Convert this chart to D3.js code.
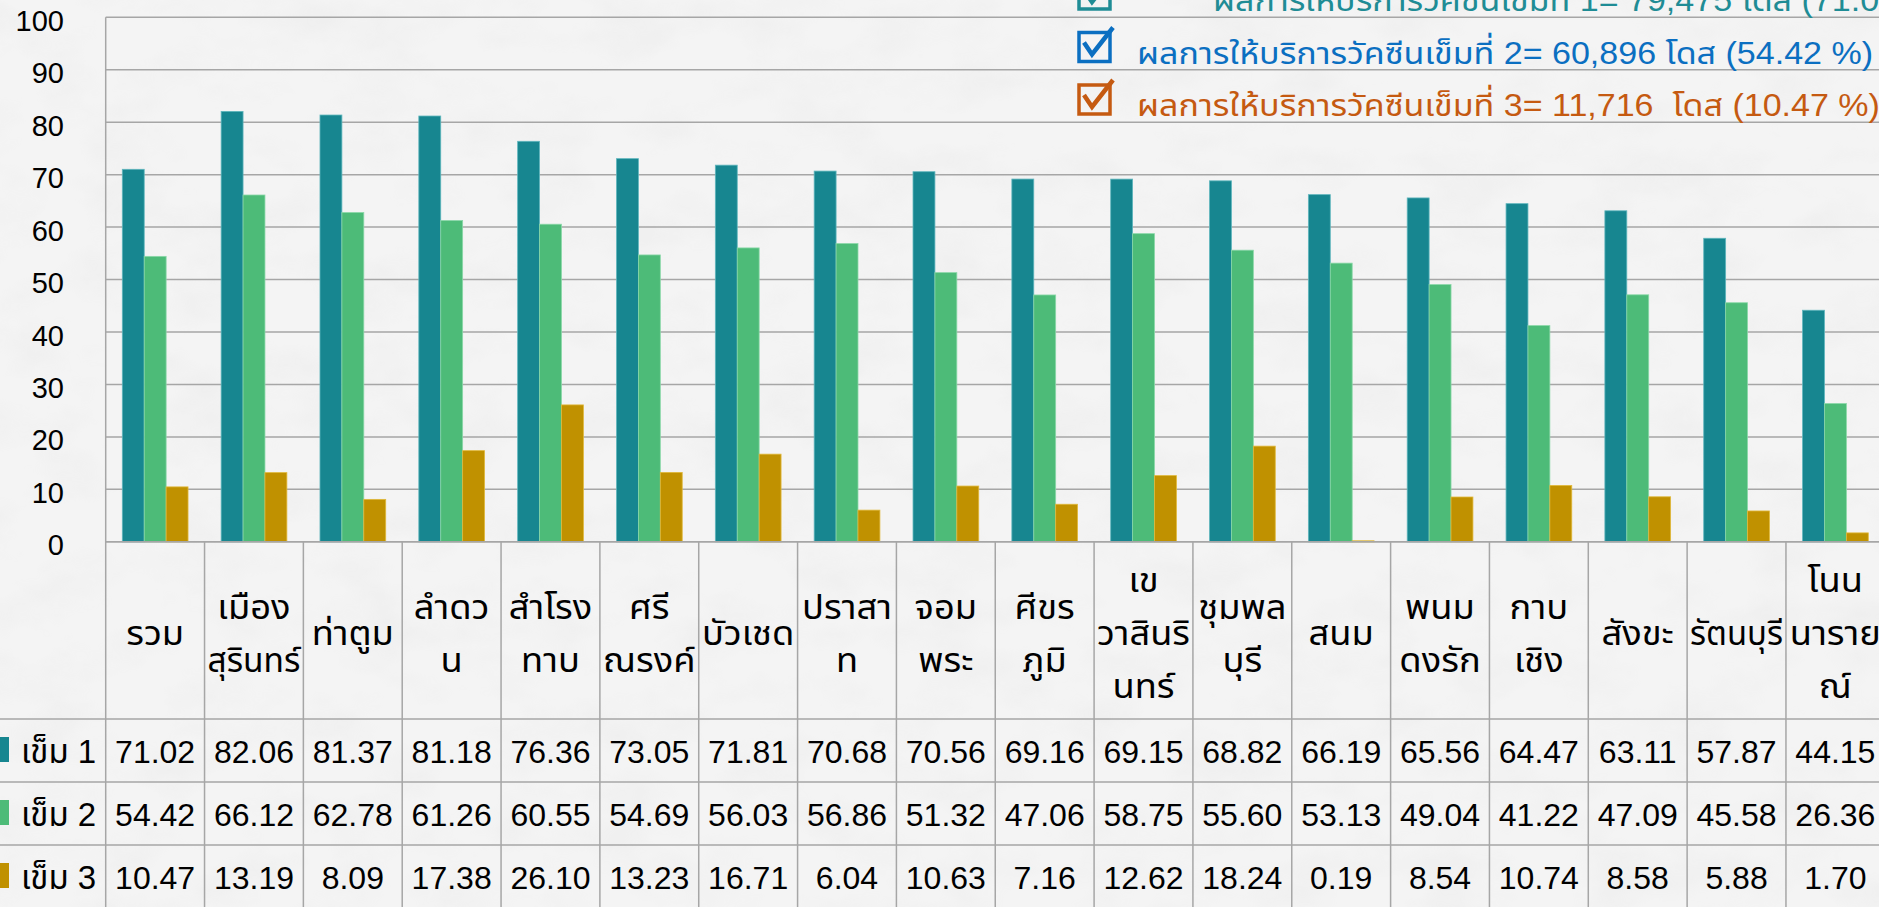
<!DOCTYPE html>
<html>
<head>
<meta charset="utf-8">
<script src="https://cdn.jsdelivr.net/npm/d3@7"></script>
<style>
  html, body { margin: 0; padding: 0; background: #f1f1f1; overflow: hidden; }
  svg { display: block; }
  text { font-family: "Tahoma", "Liberation Sans", "Noto Sans Thai", "Loma", "Garuda", "Noto Sans", sans-serif; }
</style>
</head>
<body>
<svg id="chart" width="1879" height="907"></svg>
<script>
// ---------- data ----------
const categories = ["รวม","เมืองสุรินทร์","ท่าตูม","ลำดวน","สำโรงทาบ","ศรีณรงค์","บัวเชด","ปราสาท","จอมพระ","ศีขรภูมิ","เขวาสินรินทร์","ชุมพลบุรี","สนม","พนมดงรัก","กาบเชิง","สังขะ","รัตนบุรี","โนนนารายณ์"];
const categoryLines = [["รวม"],["เมือง","สุรินทร์"],["ท่าตูม"],["ลำดว","น"],["สำโรง","ทาบ"],["ศรี","ณรงค์"],["บัวเชด"],["ปราสา","ท"],["จอม","พระ"],["ศีขร","ภูมิ"],["เข","วาสินริ","นทร์"],["ชุมพล","บุรี"],["สนม"],["พนม","ดงรัก"],["กาบ","เชิง"],["สังขะ"],["รัตนบุรี"],["โนน","นาราย","ณ์"]];
const seriesNames = ["เข็ม 1","เข็ม 2","เข็ม 3"];
const dose1 = [71.02,82.06,81.37,81.18,76.36,73.05,71.81,70.68,70.56,69.16,69.15,68.82,66.19,65.56,64.47,63.11,57.87,44.15];
const dose2 = [54.42,66.12,62.78,61.26,60.55,54.69,56.03,56.86,51.32,47.06,58.75,55.60,53.13,49.04,41.22,47.09,45.58,26.36];
const dose3 = [10.47,13.19,8.09,17.38,26.10,13.23,16.71,6.04,10.63,7.16,12.62,18.24,0.19,8.54,10.74,8.58,5.88,1.70];
const yTicks = [0,10,20,30,40,50,60,70,80,90,100];
const legendLines = [
  "ผลการให้บริการวัคซีนเข็มที่ 1= 79,475 โดส (71.02 %)",
  "ผลการให้บริการวัคซีนเข็มที่ 2= 60,896 โดส (54.42 %)",
  "ผลการให้บริการวัคซีนเข็มที่ 3= 11,716  โดส (10.47 %)"
];

// ---------- styles ----------
const colors = ["#178690", "#4dbb78", "#c09100"];
const barEdge = ["#5fb6bd", "#8ad8a8", "#e0b83a"];
const legendColors = ["#1f8c95", "#0b6fc1", "#c55a11"];
const gridColor = "#a6a6a6";

const W = 1879, H = 907;
const svg = d3.select("#chart");

// background with subtle paper texture
const defs = svg.append("defs");
const f = defs.append("filter").attr("id", "paper").attr("x", 0).attr("y", 0).attr("width", 1).attr("height", 1);
f.append("feTurbulence").attr("type", "fractalNoise").attr("baseFrequency", "0.012 0.02").attr("numOctaves", 4).attr("seed", 7).attr("result", "n");
f.append("feColorMatrix").attr("in", "n").attr("type", "matrix")
  .attr("values", "0 0 0 0 0.55  0 0 0 0 0.55  0 0 0 0 0.55  0 0 0 -0.9 0.5");
svg.append("rect").attr("width", W).attr("height", H).attr("fill", "#f4f4f4");
svg.append("rect").attr("width", W).attr("height", H).attr("filter", "url(#paper)").attr("opacity", 0.25);

// ---------- scales ----------
const plotLeft = 105.7, plotRight = 1884.8, yTop = 17.3, yBottom = 541.8;
const x = d3.scaleBand().domain(categories).range([plotLeft, plotRight]).paddingInner(0).paddingOuter(0);
const bw = x.bandwidth();
const x1 = d3.scaleBand().domain(seriesNames).range([bw * 0.168, bw * 0.833]).padding(0);
const y = d3.scaleLinear().domain([0, 100]).range([yBottom, yTop]);

// gridlines
svg.append("g").selectAll("line").data(yTicks).join("line")
  .attr("x1", plotLeft).attr("x2", W)
  .attr("y1", d => y(d)).attr("y2", d => y(d))
  .attr("stroke", gridColor).attr("stroke-width", 1.5);
svg.append("line").attr("x1", plotLeft).attr("x2", plotLeft).attr("y1", yTop).attr("y2", H)
  .attr("stroke", gridColor).attr("stroke-width", 1.5);

// y axis
const yAxis = d3.axisLeft(y).tickValues(yTicks).tickSize(0).tickPadding(0).tickFormat(d3.format("d"));
const gy = svg.append("g").attr("transform", "translate(64,0)").call(yAxis);
gy.select(".domain").remove();
gy.selectAll("text").attr("x", 0).attr("text-anchor", "end")
  .attr("font-size", 29).attr("fill", "#000").attr("dy", "0.45em")
  .style("font-family", "'Liberation Sans', sans-serif");

// bars
const seriesData = [dose1, dose2, dose3];
const gBars = svg.append("g");
seriesData.forEach((vals, si) => {
  gBars.append("g").selectAll("rect").data(vals).join("rect")
    .attr("x", (d, i) => x(categories[i]) + x1(seriesNames[si]))
    .attr("width", x1.bandwidth())
    .attr("y", d => y(d))
    .attr("height", d => y(0) - y(d))
    .attr("fill", colors[si])
    .attr("stroke", barEdge[si]).attr("stroke-width", 0.8);
});
svg.append("line").attr("x1", plotLeft).attr("x2", W).attr("y1", y(0)).attr("y2", y(0))
  .attr("stroke", gridColor).attr("stroke-width", 1.5);

// ---------- data table ----------
const headerBottom = 719, rowH = 63;
const tbl = svg.append("g");
[0,1,2,3].forEach(r => {
  tbl.append("line").attr("x1", 0).attr("x2", W)
    .attr("y1", headerBottom + r * rowH).attr("y2", headerBottom + r * rowH)
    .attr("stroke", gridColor).attr("stroke-width", 1.5);
});
tbl.selectAll("line.v").data(categories).join("line").attr("class", "v")
  .attr("x1", d => x(d) + bw).attr("x2", d => x(d) + bw)
  .attr("y1", yBottom).attr("y2", H)
  .attr("stroke", gridColor).attr("stroke-width", 1.5);

// header labels
const lineGap = 53, singleBase = 645;
categories.forEach((c, i) => {
  const lines = categoryLines[i];
  const n = lines.length;
  lines.forEach((ln, k) => {
    const t = tbl.append("text").attr("text-anchor", "middle").attr("font-size", 33).attr("fill", "#000")
      .attr("x", x(c) + bw / 2)
      .attr("y", singleBase + (k - (n - 1) / 2) * lineGap).text(ln);
    const w = t.node().getComputedTextLength();
    const target = Math.min(w * 1.1, bw - 6);
    t.attr("textLength", target).attr("lengthAdjust", "spacingAndGlyphs");
  });
});

// rows
seriesData.forEach((vals, si) => {
  const base = headerBottom + si * rowH + 44;
  tbl.append("rect").attr("x", -15).attr("y", headerBottom + si * rowH + 18)
    .attr("width", 24).attr("height", 25).attr("fill", colors[si]);
  tbl.append("text").attr("x", 21).attr("y", base).attr("font-size", 33).attr("fill", "#000")
    .text(seriesNames[si]);
  tbl.append("g").selectAll("text").data(vals).join("text")
    .attr("x", (d, i) => x(categories[i]) + bw / 2).attr("y", base)
    .attr("text-anchor", "middle").attr("font-size", 32).attr("fill", "#000")
    .style("font-family", "'Liberation Sans', sans-serif")
    .text(d => d.toFixed(2));
});

// ---------- legend ----------
const lg = svg.append("g");
const legendStarts = [1213, 1137, 1137];
const legendTexts = [];
legendLines.forEach((txt, i) => {
  const oy = i * 52.5;
  const c = legendColors[i];
  lg.append("rect").attr("x", 1079).attr("y", -20 + oy).attr("width", 31).attr("height", 29)
    .attr("fill", "none").attr("stroke", c).attr("stroke-width", 3.5);
  lg.append("path").attr("d", `M1084,${-10 + oy} L1092,${2 + oy} L1113,${-25 + oy}`)
    .attr("fill", "none").attr("stroke", c).attr("stroke-width", 4.5).attr("stroke-linejoin", "miter");
  const t = lg.append("text").attr("x", legendStarts[i]).attr("y", 11 + oy)
    .attr("font-size", 31).attr("fill", c).style("white-space", "pre")
    .text(txt);
  legendTexts.push(t);
});
const k = 736 / legendTexts[1].node().getComputedTextLength();
legendTexts.forEach(t => {
  const w = t.node().getComputedTextLength();
  t.attr("textLength", w * k).attr("lengthAdjust", "spacingAndGlyphs");
});
</script>
</body>
</html>
